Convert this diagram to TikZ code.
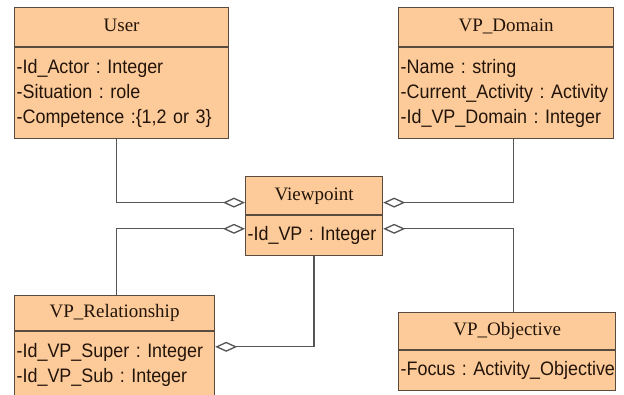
\documentclass[tikz,border=0pt]{standalone}
\usepackage{fontspec}
\setmainfont{Liberation Serif}
\newfontfamily\attrfont[FakeStretch=0.92]{Liberation Sans}
\usetikzlibrary{positioning,calc,arrows.meta}
\definecolor{boxfill}{RGB}{253,203,153}
\definecolor{boxline}{RGB}{90,75,65}
\definecolor{linkgray}{RGB}{85,85,85}
\definecolor{txt}{RGB}{35,20,10}
\tikzset{
	classhead/.style={draw=boxline, fill=boxfill, line width=1.2pt, inner sep=0pt, anchor=north west, text height=13pt, text depth=4pt, font=\fontsize{19}{21}\selectfont, text=txt},
	classattr/.style={draw=boxline, fill=boxfill, line width=1.2pt, inner ysep=0pt, inner xsep=2pt, align=left, font=\attrfont\fontsize{19.5}{25}\selectfont, text=txt, execute at begin node={\frenchspacing\hyphenpenalty=10000\exhyphenpenalty=10000}},
	agg/.style={draw=linkgray, line width=1.3pt, -{Diamond[open, length=22pt, width=10pt]}}
}

\begin{document}
\begin{tikzpicture}[x=1pt, y=-1pt]
		%%%%% START %%%%%
		\useasboundingbox (0, 0) rectangle (624, 394);
		
		\node[classhead, minimum width=214pt, minimum height=39pt] (userhead) at (14, 7) {User};
		\node[classattr, text width=210pt, minimum height=91pt, below=0pt of userhead] (userattr) {-Id\_Actor : Integer\\-Situation : role\\-Competence :\{1,2 or 3\}};
		
		\node[classhead, minimum width=215pt, minimum height=39pt] (domhead) at (398, 7) {VP\_Domain};
		\node[classattr, text width=211pt, minimum height=91pt, below=0pt of domhead] (domattr) {-Name : string\\-Current\_Activity~:~Activity\\-Id\_VP\_Domain : Integer};
		
		\node[classhead, minimum width=137pt, minimum height=38pt] (vphead) at (245, 176) {Viewpoint};
		\node[classattr, text width=133pt, minimum height=40pt, below=0pt of vphead] (vpattr) {-Id\_VP : Integer};
		
		\node[classhead, minimum width=200pt, minimum height=35pt] (relhead) at (14, 295) {VP\_Relationship};
		\node[classattr, text width=196pt, minimum height=67pt, below=0pt of relhead] (relattr) {-Id\_VP\_Super : Integer\\-Id\_VP\_Sub : Integer};
		
		\node[classhead, minimum width=217pt, minimum height=37pt] (objhead) at (398, 312) {VP\_Objective};
		\node[classattr, text width=213pt, minimum height=40pt, below=0pt of objhead] (objattr) {-Focus~:~Activity\_Objective};
		
		\coordinate (vpin1) at ($(vphead.west)+(0, 7)$);
		\coordinate (vpin2) at ($(vpattr.west)+(0, -7)$);
		\coordinate (vpout1) at ($(vphead.east)+(0, 7)$);
		\coordinate (vpout2) at ($(vpattr.east)+(0, -7)$);
		\coordinate (relin) at ($(relattr.east)+(0, -18.5)$);
		
		\draw[agg] ($(userattr.south)+(-5, 0)$) |- (vpin1);
		\draw[agg] ($(relhead.north)+(2, 0)$) |- (vpin2);
		\draw[agg] ($(domattr.south)+(7.5, 0)$) |- (vpout1);
		\draw[agg] ($(objhead.north)+(6.5, 0)$) |- (vpout2);
		\draw[agg] (vpattr.south) |- (relin);
		
		%%%%% END %%%%%
	\end{tikzpicture}
\end{document}
